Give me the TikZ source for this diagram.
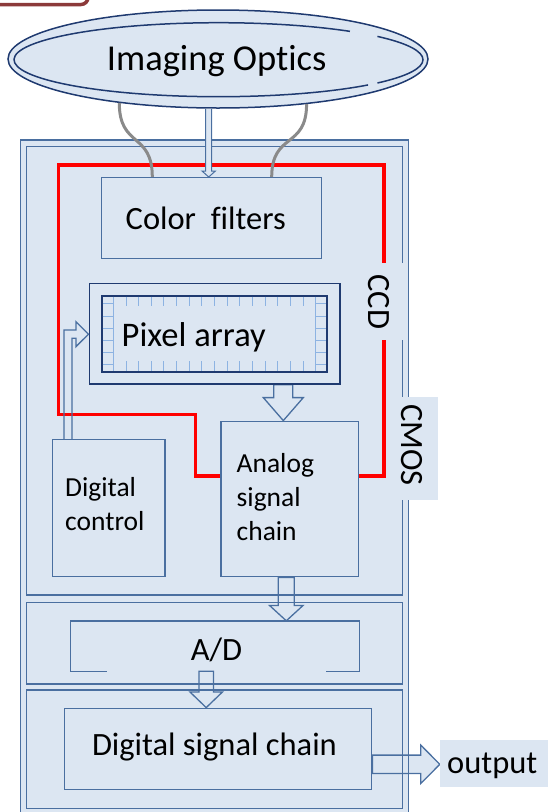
\documentclass[tikz,border=0pt]{standalone}
\usepackage{fontspec}
\setmainfont{Carlito}[Ligatures=NoCommon]
\usetikzlibrary{calc,fit,shapes.geometric}
\pgfdeclarelayer{back}
\pgfdeclarelayer{mid}
\pgfdeclarelayer{front}
\pgfsetlayers{back,mid,main,front}

\definecolor{pane}{HTML}{DCE6F2}
\definecolor{steel}{HTML}{4A6FA0}
\definecolor{navy}{HTML}{1F3A70}
\definecolor{cellblue}{HTML}{8DB3E2}
\definecolor{wirecol}{HTML}{8A8A8A}
\definecolor{maroonedge}{HTML}{8C3A3A}

\tikzset{
  frameline/.style={draw=steel, line width=1.4pt},
  box/.style={draw=steel, line width=1.4pt, fill=pane, inner sep=0pt},
  hollow/.style={draw=steel, line width=1.3pt, fill=pane, line join=miter},
  txt/.style={inner sep=0pt, text=black},
  tA/.style={txt, font=\fontsize{36.5}{44}\selectfont},
  tB/.style={txt, font=\fontsize{34.5}{41}\selectfont},
  tC/.style={txt, font=\fontsize{32.5}{39}\selectfont},
  tD/.style={txt, font=\fontsize{27.5}{34}\selectfont},
  cell/.style={draw=cellblue, line width=0.9pt},
  redline/.style={draw=red, line width=3.5pt, line join=miter},
  wire/.style={draw=wirecol, line width=3pt},
}

% hollow block arrow pointing down: top, tip, shaft half width, head half width, head length
\newcommand\blockdown[5]{%
  \draw[hollow] ($(#1)+(-#3,0)$) -- ($(#2)+(-#3,-#5)$) -- ($(#2)+(-#4,-#5)$) -- (#2)
    -- ($(#2)+(#4,-#5)$) -- ($(#2)+(#3,-#5)$) -- ($(#1)+(#3,0)$) -- cycle;}
% hollow block arrow pointing right: start, tip, shaft half width, head half width, head length
\newcommand\blockright[5]{%
  \draw[hollow] ($(#1)+(0,-#3)$) -- ($(#2)+(-#5,-#3)$) -- ($(#2)+(-#5,-#4)$) -- (#2)
    -- ($(#2)+(-#5,#4)$) -- ($(#2)+(-#5,#3)$) -- ($(#1)+(0,#3)$) -- cycle;}

\begin{document}
\begin{tikzpicture}[x=1pt,y=-1pt]
\useasboundingbox (0,0) rectangle (548,812);

% corner of the framed title block above
\draw[maroonedge, line width=3.5pt, rounded corners=7pt, fill=white] (-20,-30) rectangle (88,4.5);

% sensor frame: outer border and three stacked sections
\begin{pgfonlayer}{back}
  \fill[pane] (20.7,140) rectangle (408.4,830);
\end{pgfonlayer}
\draw[frameline] (20.7,140) rectangle (408.4,830);
\draw[frameline] (26.7,146.7) rectangle (402.4,595);
\draw[frameline] (26.7,602.3) rectangle (402.4,684);
\draw[frameline] (26.7,690) rectangle (402.4,808.3);

% imaging optics (double outline)
\node[ellipse, draw=navy, line width=1.5pt, fill=pane, inner sep=0pt,
      minimum width=420pt, minimum height=98pt] (optics) at (218,59) {};
\draw[navy, line width=1.5pt] ($(218.5,59.7)+(50:204.5pt and 37pt)$)
  arc[start angle=50, end angle=317, x radius=204.5pt, y radius=37pt];
\draw[navy, line width=1.5pt] ($(218.5,59.7)+(-39:204.5pt and 37pt)$)
  arc[start angle=-39, end angle=39, x radius=204.5pt, y radius=37pt];
\node[tA, anchor=base] (optlbl) at (216.7,70) {Imaging Optics};

% blocks
\node[box, fit={(101.7,177.7) (321.7,258.3)}] (cf) {};
\node[tC, anchor=base west] (cflbl) at (125.5,229.3) {Color\ \ filters};

\node[box, draw=navy, line width=1.6pt, fit={(89.3,283.3) (340,384)}] (px) {};
\node[box, draw=navy, line width=2pt, fit={(101.7,295.7) (327.3,371.7)}] (pxin) {};
% pixel cell border
\draw[cell] (113.3,296.7) -- (113.3,370.7);
\draw[cell] (315.7,296.7) -- (315.7,370.7);
\foreach \k in {1,...,15} {
  \draw[cell] (113.3+\k*12.65,296.7) -- ++(0,9.6);
  \draw[cell] (113.3+\k*12.65,370.7) -- ++(0,-9.6);
}
\foreach \j in {0,...,5} {
  \draw[cell] (102.7,303.8+\j*12.2) -- (113.3,303.8+\j*12.2);
  \draw[cell] (315.7,303.8+\j*12.2) -- (326.3,303.8+\j*12.2);
}
\node[tB, anchor=base west] (pxlbl) at (121.5,346) {Pixel array};

\node[box, fit={(52.3,439.7) (165,576.7)}] (dc) {};
\node[tD, anchor=base west] (dcl1) at (65,496) {Digital};
\node[tD, anchor=base west] (dcl2) at (65,530) {control};

\node[box, fit={(221,421.3) (358.3,576.7)}] (asc) {};
\node[tD, anchor=base west] (ascl1) at (236.5,472) {Analog};
\node[tD, anchor=base west] (ascl2) at (236.5,506) {signal};
\node[tD, anchor=base west] (ascl3) at (236.5,540) {chain};

\node[inner sep=0pt, fit={(70.7,621) (359,671)}] (ad) {};
\draw[frameline] ($(ad.south west)+(36,0)$) -- (ad.south west) -- (ad.north west)
  -- (ad.north east) -- (ad.south east) -- ++(-33,0);
\node[tC, anchor=base] (adlbl) at (216.5,660) {A/D};

\node[box, fit={(64.3,708.3) (371.7,789.3)}] (dsc) {};
\node[tC, anchor=base west] (dsclbl) at (91.8,755) {Digital signal chain};

\node[fill=pane, inner sep=0pt, fit={(440,740) (552,787.3)}] (out) {};
\node[tC, anchor=base west] (outlbl) at (447,773.3) {output};

% block arrows through the chain
\coordinate (xa) at (283.3,0);
\coordinate (xb) at (286.3,0);
\coordinate (xc) at (206.2,0);
\coordinate (yo) at (0,764.3);
\coordinate (aTop) at (px.south -| xa);
\coordinate (aTip) at (asc.north -| xa);
\coordinate (bTop) at (asc.south -| xb);
\coordinate (bTip) at (ad.north -| xb);
\coordinate (cTop) at (ad.south -| xc);
\coordinate (cTip) at (dsc.north -| xc);
\coordinate (dStart) at (dsc.east |- yo);
\coordinate (dTip) at (out.west |- yo);
\begin{pgfonlayer}{mid}
  \blockdown{aTop}{aTip}{9.5}{20}{23}
  \blockdown{bTop}{bTip}{8}{16.7}{15.3}
  \blockdown{cTop}{cTip}{7.2}{16.2}{15.6}
  \blockright{dStart}{dTip}{9.2}{19.2}{19}
\end{pgfonlayer}

% CCD / CMOS read-out loops
\coordinate (redlow) at (0,476);
\draw[redline] (asc.west |- redlow) -- (195.7,476) -- (195.7,414.7) -- (58.3,414.7)
  -- (58.3,165) -- (384,165) -- (384,476) -- (asc.east |- redlow);

% digital control to pixel array
\coordinate (lc) at (68,334.2);
\coordinate (lTip) at (px.west |- lc);
\coordinate (lBot) at (dc.north -| lc);
\draw[steel, line width=1.3pt, line join=miter]
  ($(lBot)+(-4,0)$) -- ($(lc)+(-4,-4.2)$) -- ($(lTip)+(-12.6,-4.2)$) -- ($(lTip)+(-12.6,-12.5)$)
  -- (lTip) -- ($(lTip)+(-12.6,12.5)$) -- ($(lTip)+(-12.6,4.1)$) -- ($(lc)+(4,4.1)$) -- ($(lBot)+(4,0)$);

% light paths from the optics
\coordinate (gl) at (152.3,0);
\coordinate (gr) at (271.7,0);
\draw[wire] (optics.204) .. controls +(0,45) and +(0,-45) .. (cf.north -| gl);
\draw[wire] (optics.333) .. controls +(0,45) and +(0,-45) .. (cf.north -| gr);
\coordinate (xe) at (208.7,0);
\coordinate (eTop) at (optics.south -| xe);
\coordinate (eTip) at (cf.north -| xe);
\draw[hollow, line width=1pt] ($(eTop)+(-3,0)$) -- ($(eTip)+(-3,-6)$) -- ($(eTip)+(-6.7,-6)$) -- (eTip)
  -- ($(eTip)+(6.7,-6)$) -- ($(eTip)+(3,-6)$) -- ($(eTop)+(3,0)$);

% technology labels
\begin{pgfonlayer}{front}
  \fill[pane] (360,263) rectangle (405.2,340);
  \node[tC, rotate=-90] (ccd) at (379,301.7) {CCD};
  \fill[pane] (396.7,397) rectangle (438,500);
  \node[tC, rotate=-90] (cmos) at (412.3,445) {CMOS};
\end{pgfonlayer}
\end{tikzpicture}
\end{document}
